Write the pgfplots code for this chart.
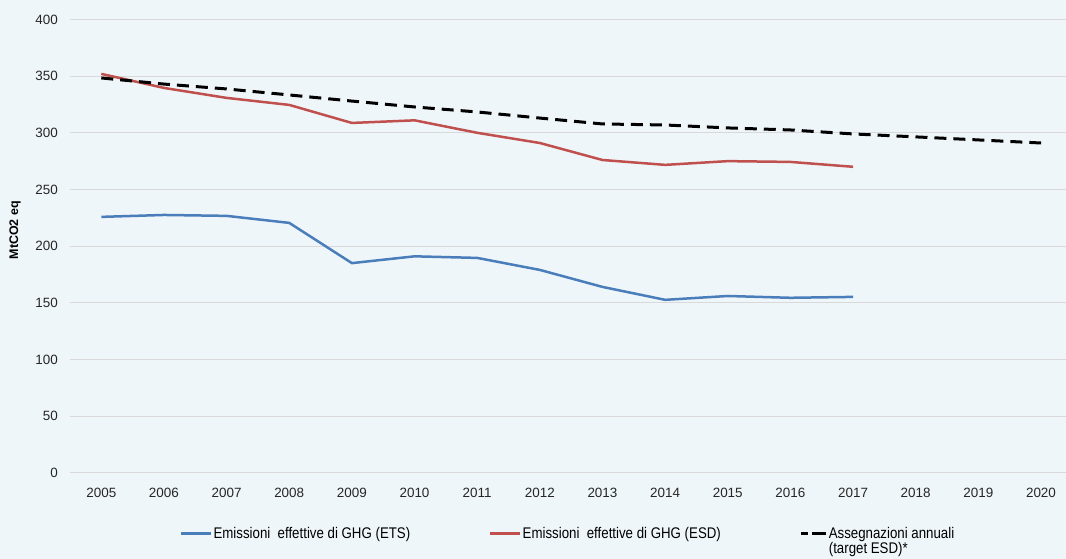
\documentclass[border=0pt]{standalone}
\usepackage{pgfplots}
\pgfplotsset{compat=1.18}
\usepackage{fontspec}
\setmainfont{Liberation Sans}
\newfontfamily\narrowfont[FakeStretch=0.86]{Liberation Sans}
\definecolor{bg}{RGB}{239,246,250}
\definecolor{ets}{RGB}{74,126,187}
\definecolor{esd}{RGB}{192,80,77}
\definecolor{gridc}{RGB}{217,217,217}
\begin{document}
\begin{tikzpicture}[x=1bp,y=1bp]
\fill[bg] (-70,-86) rectangle (996,473);
\begin{axis}[at={(0,0)}, anchor=south west, scale only axis,
  width=996bp, height=453.5bp,
  xmin=2004.5, xmax=2020.39, ymin=0, ymax=400,
  axis line style={draw=none}, major tick length=0pt,
  xtick={2005,...,2020}, ytick={0,50,...,400},
  ymajorgrids, grid style={gridc, line width=1bp},
  tick label style={font=\fontsize{13.5}{16}\selectfont, /pgf/number format/assume math mode=true, /pgf/number format/1000 sep={}, text=black!85},
  yticklabel style={anchor=east, inner sep=0pt, xshift=-12bp},
  xticklabel style={anchor=north, inner sep=0pt, yshift=-15bp},
  ylabel={MtCO2 eq},
  ylabel style={at={(axis description cs:-0.0552,0.535)}, anchor=center, font=\bfseries\fontsize{12.5}{15}\selectfont},
  legend columns=3,
  legend cell align=left,
  legend image code/.code={\draw[#1] (0bp,0bp) -- (30bp,0bp);},
  legend style={draw=none, fill=none, inner sep=0pt,
    at={(axis description cs:0.1104,-0.119)}, anchor=north west,
    font=\narrowfont\fontsize{15.5}{13.5}\selectfont,
    nodes={inner sep=0pt},
    /tikz/every odd column/.append style={column sep=1bp},
    /tikz/every even column/.append style={column sep=79bp}},
]
\addplot[ets, line width=2.5bp] coordinates {
(2005,225.8) (2006,227.5) (2007,226.7) (2008,220.5) (2009,185) (2010,191)
(2011,189.6) (2012,179) (2013,164) (2014,152.6) (2015,156) (2016,154.4) (2017,155.2)};
\addlegendentry{Emissioni\ \ effettive di GHG (ETS)}
\addplot[esd, line width=2.5bp] coordinates {
(2005,352) (2006,339.6) (2007,330.8) (2008,324.6) (2009,308.7) (2010,311)
(2011,300) (2012,291) (2013,276) (2014,271.7) (2015,275) (2016,274.3) (2017,270)};
\addlegendentry{Emissioni\ \ effettive di GHG (ESD)}
\addplot[black, line width=3bp, dash pattern=on 12bp off 7bp,
  legend image code/.code={\draw[black, line width=3bp, dash pattern=on 7bp off 4bp on 14bp off 4bp] (0bp,0bp) -- (25bp,0bp);}] coordinates {
(2005,348.4) (2006,343) (2007,338.7) (2008,333.4) (2009,328) (2010,322.8)
(2011,318.4) (2012,313) (2013,307.8) (2014,306.9) (2015,304.3) (2016,302.5)
(2017,299) (2018,296.4) (2019,293.7) (2020,291)};
\addlegendentry{\begin{tabular}[t]{@{}l@{}}Assegnazioni annuali\\(target ESD)*\end{tabular}}
\end{axis}
\end{tikzpicture}
\end{document}
